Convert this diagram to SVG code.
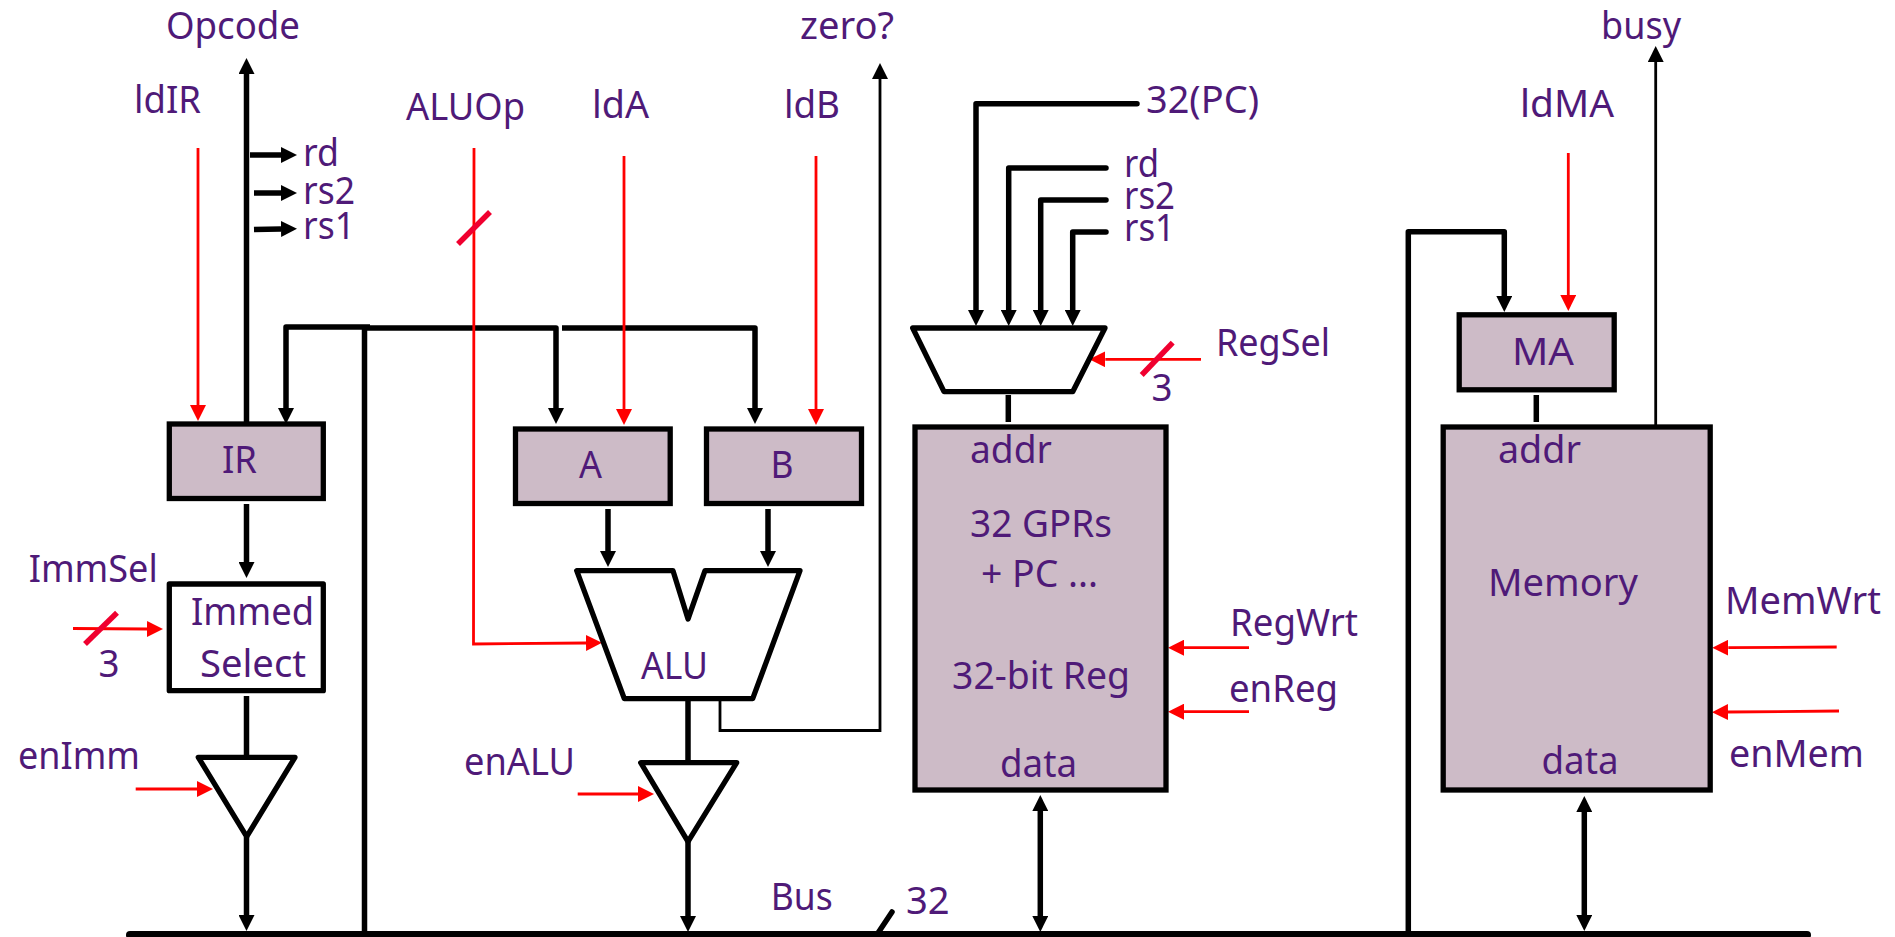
<svg xmlns="http://www.w3.org/2000/svg" width="1895" height="937" viewBox="0 0 1895 937">
<style>
text{font-family:"Noto Sans","Open Sans","Liberation Sans",sans-serif;font-size:38px;fill:#4f1a78}
.b{fill:none;stroke:#000;stroke-width:5.5;stroke-linejoin:round;stroke-linecap:round}
.f{stroke-linecap:butt}
.t{fill:none;stroke:#000;stroke-width:2.8}
.r{fill:none;stroke:#f00;stroke-width:2.8}
.s{fill:none;stroke:#f0002f;stroke-width:5.5}
.k{fill:#cdbbc7;stroke:#000;stroke-width:5.3}
.w{fill:#fff;stroke:#000;stroke-width:5.3;stroke-linejoin:round}
.ma{marker-end:url(#ah)}
.mr{marker-end:url(#rh)}
.md{marker-start:url(#ah);marker-end:url(#ah)}
</style>
<defs>
<marker id="ah" markerUnits="userSpaceOnUse" markerWidth="16" markerHeight="16" refX="0" refY="8" orient="auto-start-reverse"><path d="M0,0L16,8L0,16z" fill="#000"/></marker>
<marker id="rh" markerUnits="userSpaceOnUse" markerWidth="16" markerHeight="16" refX="0" refY="8" orient="auto"><path d="M0,0L16,8L0,16z" fill="#f00"/></marker>
</defs>
<g id="connectors">
<path class="b f ma" d="M246.5,422V74"/>
<path class="b f ma" d="M250,155H281"/>
<path class="b f ma" d="M254,193H281"/>
<path class="b f ma" d="M254,229.5L281,229"/>
<path class="b f ma" d="M370,327H286V408"/>
<path class="b f" d="M364.5,328V932"/>
<path class="b f ma" d="M364,328H556V408"/>
<path class="b f ma" d="M562,328H755V408"/>
<path class="b f ma" d="M246.5,504V562"/>
<path class="b f" d="M246.5,696V757"/>
<path class="b f ma" d="M246.5,837V915"/>
<path class="b f ma" d="M608,509V551"/>
<path class="b f ma" d="M768,509V551"/>
<path class="b f" d="M688,700V763"/>
<path class="b f ma" d="M688,842V916"/>
<path class="t ma" d="M720,700V730.5H880V79"/>
<path class="b ma" d="M1137,103.7H976V310"/>
<path class="b ma" d="M1106,168H1008.7V310"/>
<path class="b ma" d="M1106,200H1040.7V310"/>
<path class="b ma" d="M1106,232H1072.7V310"/>
<path class="b f" d="M1008.3,395V422"/>
<path class="b f md" d="M1040.3,811V916"/>
<path class="b f ma" d="M1408.3,932V231.7H1504.3V296"/>
<path class="b f" d="M1536.3,395V422"/>
<path class="t ma" d="M1655.7,425V62"/>
<path class="b f md" d="M1584.3,812V915"/>
<path d="M878,933L892,912" class="b" stroke-width="4"/>
<path class="r mr" d="M198,148V405"/>
<path class="r mr" d="M474,148L473.5,644L586,643"/>
<path class="r mr" d="M624,156V409"/>
<path class="r mr" d="M816,156V409"/>
<path class="r mr" d="M1568.3,153V295"/>
<path class="r mr" d="M73,628.5L147,629"/>
<path class="r mr" d="M135.7,789H197"/>
<path class="r mr" d="M577.7,794H638"/>
<path class="r mr" d="M1201,359.3H1105.3"/>
<path class="r mr" d="M1249,647.7H1184"/>
<path class="r mr" d="M1249,711.7H1184"/>
<path class="r mr" d="M1836.7,647L1728.3,647.7"/>
<path class="r mr" d="M1839,711L1728,712"/>
<path class="s" d="M458,244L490,212"/>
<path class="s" d="M85,644L117,612.7"/>
<path class="s" d="M1141.7,375L1172.7,342.7"/>
<path d="M130,935H1807" fill="none" stroke="#000" stroke-width="8" stroke-linecap="round"/>
</g>
<g id="node-ir"><rect class="k" x="169.3" y="424" width="154" height="74.5"/><text x="222" y="473" textLength="35" lengthAdjust="spacingAndGlyphs">IR</text></g>
<g id="node-immed"><rect x="169.3" y="584" width="154" height="106.7" class="w"/><text x="191" y="625" textLength="123" lengthAdjust="spacingAndGlyphs">Immed</text><text x="200" y="676.7" textLength="106" lengthAdjust="spacingAndGlyphs">Select</text></g>
<g id="node-imm-buffer"><path class="w" d="M198.3,757.3H295L246.7,836.7z"/></g>
<g id="node-a"><rect class="k" x="515.5" y="429" width="154.7" height="74.5"/><text x="579" y="478" textLength="23" lengthAdjust="spacingAndGlyphs">A</text></g>
<g id="node-b"><rect class="k" x="706.5" y="429" width="155" height="74.5"/><text x="770.5" y="478" textLength="23" lengthAdjust="spacingAndGlyphs">B</text></g>
<g id="node-alu"><path class="w" d="M576.7,570.7H673L688,619L705,570.7H800L752.7,698.7H624.3z"/><text x="641" y="679" textLength="67" lengthAdjust="spacingAndGlyphs">ALU</text></g>
<g id="node-alu-buffer"><path class="w" d="M640.7,762.7H736.7L688,841.7z"/></g>
<g id="node-mux"><path class="w" d="M912.7,328H1105L1072.7,391.7H944z"/></g>
<g id="node-regfile"><rect class="k" x="915" y="427" width="251" height="363"/>
<text x="970" y="462.7" textLength="82" lengthAdjust="spacingAndGlyphs">addr</text>
<text x="970" y="536.7" textLength="142" lengthAdjust="spacingAndGlyphs">32 GPRs</text>
<text x="981" y="587" textLength="117" lengthAdjust="spacingAndGlyphs">+ PC ...</text>
<text x="952" y="689" textLength="178" lengthAdjust="spacingAndGlyphs">32-bit Reg</text>
<text x="1000" y="776.7" textLength="77" lengthAdjust="spacingAndGlyphs">data</text></g>
<g id="node-ma"><rect class="k" x="1459.2" y="314.8" width="155" height="75"/><text x="1512" y="365" textLength="62" lengthAdjust="spacingAndGlyphs">MA</text></g>
<g id="node-memory"><rect class="k" x="1443.2" y="427" width="267" height="363"/>
<text x="1498" y="462.7" textLength="83" lengthAdjust="spacingAndGlyphs">addr</text>
<text x="1488" y="596" textLength="150" lengthAdjust="spacingAndGlyphs">Memory</text>
<text x="1541.5" y="774.3" textLength="77" lengthAdjust="spacingAndGlyphs">data</text></g>
<g id="labels">
<text x="166" y="39" textLength="134" lengthAdjust="spacingAndGlyphs">Opcode</text>
<text x="134" y="113" textLength="67" lengthAdjust="spacingAndGlyphs">ldIR</text>
<text x="303" y="166" textLength="36" lengthAdjust="spacingAndGlyphs">rd</text>
<text x="303" y="204" textLength="52" lengthAdjust="spacingAndGlyphs">rs2</text>
<text x="303" y="239" textLength="52" lengthAdjust="spacingAndGlyphs">rs1</text>
<text x="406" y="120" textLength="119" lengthAdjust="spacingAndGlyphs">ALUOp</text>
<text x="592" y="118" textLength="57" lengthAdjust="spacingAndGlyphs">ldA</text>
<text x="784" y="118" textLength="56" lengthAdjust="spacingAndGlyphs">ldB</text>
<text x="800" y="39" textLength="94" lengthAdjust="spacingAndGlyphs">zero?</text>
<text x="28.7" y="581.7" textLength="129" lengthAdjust="spacingAndGlyphs">ImmSel</text>
<text x="98.5" y="676.7" textLength="21" lengthAdjust="spacingAndGlyphs">3</text>
<text x="18" y="769" textLength="122" lengthAdjust="spacingAndGlyphs">enImm</text>
<text x="464" y="775" textLength="111" lengthAdjust="spacingAndGlyphs">enALU</text>
<text x="770.7" y="910" textLength="62" lengthAdjust="spacingAndGlyphs">Bus</text>
<text x="906" y="914" textLength="43.7" lengthAdjust="spacingAndGlyphs">32</text>
<text x="1146" y="113" textLength="113" lengthAdjust="spacingAndGlyphs">32(PC)</text>
<text x="1124" y="176.7" textLength="35" lengthAdjust="spacingAndGlyphs">rd</text>
<text x="1124" y="209" textLength="51" lengthAdjust="spacingAndGlyphs">rs2</text>
<text x="1124" y="241" textLength="51" lengthAdjust="spacingAndGlyphs">rs1</text>
<text x="1216" y="356" textLength="114" lengthAdjust="spacingAndGlyphs">RegSel</text>
<text x="1151.5" y="401" textLength="21" lengthAdjust="spacingAndGlyphs">3</text>
<text x="1230" y="636" textLength="128" lengthAdjust="spacingAndGlyphs">RegWrt</text>
<text x="1229" y="701.7" textLength="109" lengthAdjust="spacingAndGlyphs">enReg</text>
<text x="1601" y="38.7" textLength="80" lengthAdjust="spacingAndGlyphs">busy</text>
<text x="1520" y="116.7" textLength="94" lengthAdjust="spacingAndGlyphs">ldMA</text>
<text x="1725" y="614.3" textLength="156" lengthAdjust="spacingAndGlyphs">MemWrt</text>
<text x="1729" y="766.7" textLength="135" lengthAdjust="spacingAndGlyphs">enMem</text>
</g>
</svg>
